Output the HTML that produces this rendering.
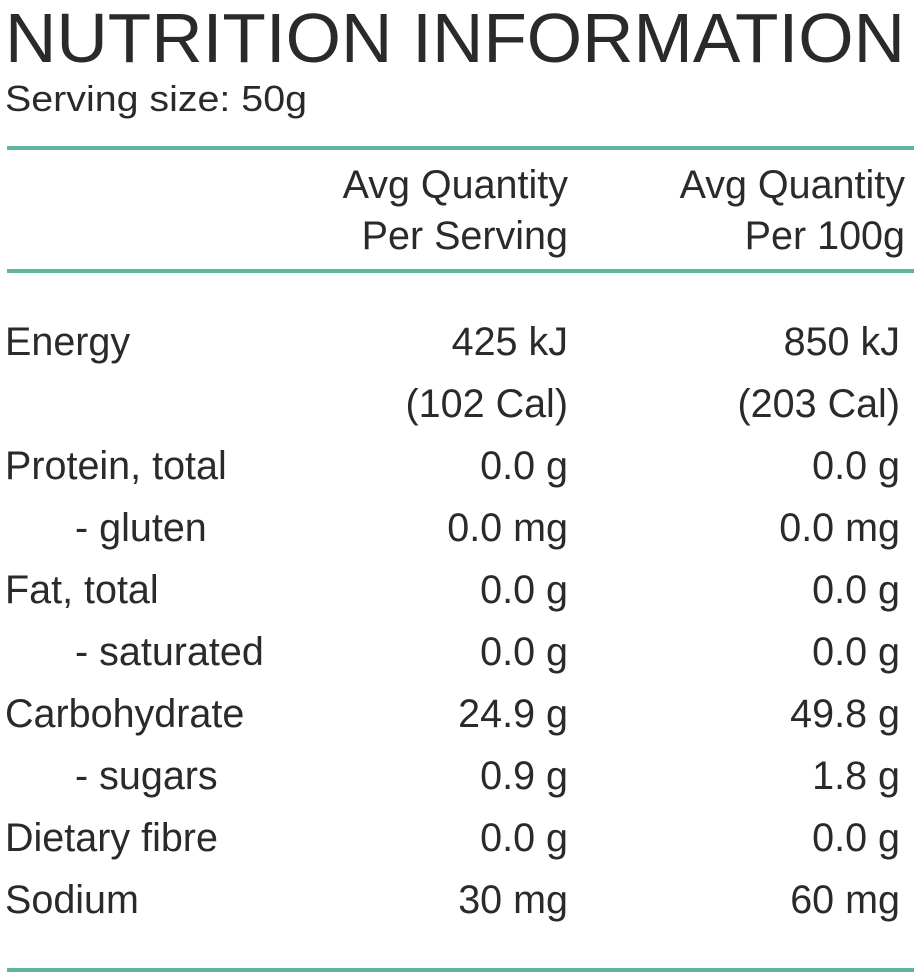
<!DOCTYPE html>
<html><head><meta charset="utf-8"><style>
html,body{margin:0;padding:0;background:#fff;}
svg{display:block;}
text{font-family:"Liberation Sans",sans-serif;fill:#2a2a2a;}
</style></head><body>
<svg width="914" height="977" xmlns="http://www.w3.org/2000/svg">
<text x="5" y="62" font-size="70" textLength="900" lengthAdjust="spacingAndGlyphs">NUTRITION INFORMATION</text>
<text x="5" y="111" font-size="36" textLength="302" lengthAdjust="spacingAndGlyphs">Serving size: 50g</text>
<rect x="7" y="146" width="907" height="4" fill="#5fb5a0"/>
<rect x="7" y="269" width="907" height="4" fill="#5fb5a0"/>
<rect x="7" y="968" width="907" height="4" fill="#5fb5a0"/>
<g font-size="39.5" text-anchor="end">
<text x="568" y="198">Avg Quantity</text>
<text x="568" y="249">Per Serving</text>
<text x="905" y="198">Avg Quantity</text>
<text x="905" y="249">Per 100g</text>
<text x="568" y="355">425 kJ</text><text x="900" y="355">850 kJ</text>
<text x="568" y="417">(102 Cal)</text><text x="900" y="417">(203 Cal)</text>
<text x="568" y="479">0.0 g</text><text x="900" y="479">0.0 g</text>
<text x="568" y="541">0.0 mg</text><text x="900" y="541">0.0 mg</text>
<text x="568" y="603">0.0 g</text><text x="900" y="603">0.0 g</text>
<text x="568" y="665">0.0 g</text><text x="900" y="665">0.0 g</text>
<text x="568" y="727">24.9 g</text><text x="900" y="727">49.8 g</text>
<text x="568" y="789">0.9 g</text><text x="900" y="789">1.8 g</text>
<text x="568" y="851">0.0 g</text><text x="900" y="851">0.0 g</text>
<text x="568" y="913">30 mg</text><text x="900" y="913">60 mg</text>
</g>
<g font-size="39.5">
<text x="5" y="355">Energy</text>
<text x="5" y="479">Protein, total</text>
<text x="75" y="541">- gluten</text>
<text x="5" y="603">Fat, total</text>
<text x="75" y="665">- saturated</text>
<text x="5" y="727">Carbohydrate</text>
<text x="75" y="789">- sugars</text>
<text x="5" y="851">Dietary fibre</text>
<text x="5" y="913">Sodium</text>
</g>
</svg>
</body></html>
